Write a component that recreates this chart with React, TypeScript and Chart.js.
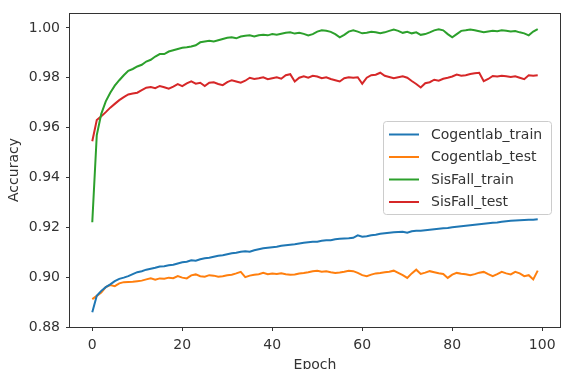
import React, { useEffect, useRef } from 'react';
import { Chart, registerables } from 'chart.js';

Chart.register(...registerables);

const epochs: number[] = Array.from({ length: 100 }, (_, i) => i);

const xTicks = [0, 20, 40, 60, 80, 100];
const yTicks = [0.88, 0.9, 0.92, 0.94, 0.96, 0.98, 1.0];

const seriesLabels = ['Cogentlab_train', 'Cogentlab_test', 'SisFall_train', 'SisFall_test'];
const seriesColors = ['#1f77b4', '#ff7f0e', '#2ca02c', '#d62728'];

const cogentlabTrain = [
  0.8859, 0.8925, 0.8945, 0.896, 0.8971, 0.8984, 0.8993, 0.8998, 0.9004, 0.9012,
  0.902, 0.9024, 0.903, 0.9034, 0.9038, 0.9043, 0.9044, 0.9048, 0.905, 0.9055,
  0.906, 0.9062, 0.9068, 0.9066, 0.9072, 0.9076, 0.9078, 0.9082, 0.9086, 0.9088,
  0.9092, 0.9096, 0.9098, 0.9102, 0.9104, 0.9102, 0.9108, 0.9112, 0.9116, 0.9118,
  0.912, 0.9122, 0.9126, 0.9128, 0.913, 0.9132, 0.9135, 0.9138, 0.914, 0.9142,
  0.9142, 0.9146, 0.9148, 0.9148, 0.9152, 0.9154, 0.9155, 0.9156, 0.9158, 0.9168,
  0.9162, 0.9164, 0.9168, 0.917, 0.9174, 0.9176, 0.9178, 0.918, 0.9181, 0.9182,
  0.9178, 0.9184, 0.9186, 0.9186, 0.9188, 0.919, 0.9192, 0.9194, 0.9196, 0.9197,
  0.92, 0.9202, 0.9204, 0.9206, 0.9208, 0.921, 0.9212, 0.9214, 0.9216, 0.9218,
  0.9219, 0.9222, 0.9224, 0.9226, 0.9227, 0.9228, 0.9229, 0.923, 0.923, 0.9232,
];

const cogentlabTest = [
  0.8912, 0.8925, 0.8938, 0.896, 0.8968, 0.8964, 0.8975, 0.898, 0.8981, 0.8982,
  0.8984, 0.8986, 0.8991, 0.8995, 0.899, 0.8995, 0.8994, 0.8998, 0.8996, 0.9004,
  0.8998, 0.8995, 0.9007, 0.9011, 0.9004, 0.9002, 0.9008, 0.9006, 0.9002, 0.9004,
  0.9008, 0.901, 0.9015, 0.9021, 0.9, 0.9006, 0.901, 0.9012, 0.9017, 0.9012,
  0.9015, 0.9013, 0.9016, 0.9012, 0.901, 0.9011, 0.9015, 0.9017, 0.902, 0.9024,
  0.9026, 0.9022, 0.9024, 0.902, 0.9017, 0.9019, 0.9022, 0.9026, 0.9024, 0.9017,
  0.9008, 0.9004, 0.901, 0.9015, 0.9017, 0.902, 0.9022, 0.9026, 0.9017, 0.9008,
  0.8997, 0.9015, 0.903, 0.9013, 0.9018, 0.9024, 0.902, 0.9016, 0.9013, 0.8997,
  0.901, 0.9017, 0.9014, 0.9012, 0.9008, 0.9012, 0.9018, 0.9021, 0.9012, 0.9004,
  0.9012, 0.9021, 0.9015, 0.9011, 0.9021, 0.9015, 0.9004, 0.9008, 0.8991, 0.9026,
];

const sisFallTrain = [
  0.922, 0.957, 0.9655, 0.9705, 0.974, 0.9768, 0.979, 0.981, 0.9828, 0.9835,
  0.9845, 0.9852, 0.9865, 0.9872, 0.9885, 0.9895, 0.9895, 0.9905, 0.991, 0.9915,
  0.992, 0.9922, 0.9925, 0.993, 0.9942, 0.9945, 0.9948, 0.9945, 0.995, 0.9955,
  0.996, 0.9962, 0.9958, 0.9965, 0.9968, 0.997, 0.9965, 0.997, 0.9972, 0.997,
  0.9975, 0.9972, 0.9976, 0.998, 0.9982, 0.9977, 0.998, 0.9976, 0.997, 0.9975,
  0.9985, 0.999, 0.9988, 0.9984, 0.9975, 0.9962, 0.9972, 0.9985, 0.999, 0.9985,
  0.9978, 0.998, 0.9984, 0.9982, 0.9978, 0.9982, 0.9988, 0.9993, 0.9988, 0.998,
  0.9984, 0.9978, 0.9982, 0.9972, 0.9975, 0.9982, 0.999, 0.9994, 0.999, 0.9975,
  0.9962, 0.9975, 0.9988, 0.999, 0.9993, 0.999, 0.9986, 0.9982, 0.9985, 0.9988,
  0.9986, 0.999, 0.9988, 0.9985, 0.9987, 0.9982, 0.9978, 0.997, 0.9985, 0.9995,
];

const sisFallTest = [
  0.9545, 0.963, 0.9645, 0.9662, 0.968, 0.9695, 0.971, 0.9722, 0.9733, 0.9737,
  0.974, 0.975, 0.976, 0.9763, 0.9758, 0.9767, 0.9762, 0.9756, 0.9764, 0.9774,
  0.9766, 0.9777, 0.9785, 0.9776, 0.978, 0.9767, 0.978, 0.9782, 0.9775, 0.977,
  0.9782, 0.979, 0.9785, 0.978, 0.9788, 0.98, 0.9795, 0.9798, 0.9802, 0.9794,
  0.9798, 0.9802, 0.9796, 0.981, 0.9814, 0.9785, 0.98, 0.9806, 0.98, 0.9808,
  0.9805, 0.9798, 0.9802, 0.9795, 0.979, 0.9785, 0.9798, 0.9802, 0.98, 0.9802,
  0.9776, 0.98, 0.981, 0.9812, 0.982, 0.9808, 0.9803, 0.9798, 0.9802, 0.9806,
  0.98, 0.9787, 0.9775, 0.9761, 0.9778, 0.9782, 0.9792, 0.9788, 0.9796, 0.98,
  0.9805, 0.9813, 0.9808, 0.981, 0.9815, 0.9818, 0.982, 0.9786, 0.9795, 0.9807,
  0.9805, 0.9808, 0.9806, 0.9803, 0.9806, 0.98, 0.9794, 0.981, 0.9808, 0.981,
];

const FONT = 'DejaVu Sans';
const TEXT = '#333333';

const decorPlugin = {
  id: 'decor',
  afterDatasetsDraw(chart: any) {
    const { ctx, chartArea: a } = chart;
    ctx.save();
    // frame (all four spines)
    ctx.strokeStyle = '#333333';
    ctx.lineWidth = 1;
    ctx.strokeRect(Math.round(a.left) - 0.5, Math.round(a.top) - 0.5,
      Math.round(a.right - a.left) + 1, Math.round(a.bottom - a.top) + 1);

    // legend
    const bx = 383.5, by = 121.5, bw = 168, bh = 93;
    ctx.beginPath();
    (ctx as any).roundRect(bx, by, bw, bh, 3);
    ctx.fillStyle = 'rgba(255,255,255,0.8)';
    ctx.fill();
    ctx.strokeStyle = '#cccccc';
    ctx.stroke();
    ctx.font = `14px "${FONT}"`;
    ctx.textBaseline = 'middle';
    ctx.textAlign = 'left';
    chart.data.datasets.forEach((ds: any, i: number) => {
      const y = 134.5 + i * 22.5;
      ctx.strokeStyle = ds.borderColor;
      ctx.lineWidth = 2;
      ctx.beginPath();
      ctx.moveTo(389, y);
      ctx.lineTo(419, y);
      ctx.stroke();
      ctx.fillStyle = TEXT;
      ctx.fillText(ds.label, 431, y + 0.5);
    });

    // axis titles
    ctx.fillStyle = TEXT;
    ctx.font = `14px "${FONT}"`;
    ctx.textAlign = 'center';
    ctx.textBaseline = 'alphabetic';
    ctx.fillText('Epoch', (a.left + a.right) / 2, 368.5);
    ctx.translate(17.5, 170);
    ctx.rotate(-Math.PI / 2);
    ctx.fillText('Accuracy', 0, 0);
    ctx.restore();
  },
};

export default function App() {
  const ref = useRef<HTMLCanvasElement | null>(null);

  useEffect(() => {
    if (!ref.current) return;
    const data = [cogentlabTrain, cogentlabTest, sisFallTrain, sisFallTest];
    const chart = new Chart(ref.current, {
      type: 'line',
      data: {
        labels: epochs,
        datasets: data.map((d, i) => ({
          label: seriesLabels[i],
          data: d,
          borderColor: seriesColors[i],
          backgroundColor: seriesColors[i],
          borderWidth: 2,
          pointRadius: 0,
          tension: 0,
          fill: false,
        })),
      },
      options: {
        animation: false,
        responsive: false,
        maintainAspectRatio: false,
        layout: { padding: { top: 9, right: 9, left: 0, bottom: 0 } },
        plugins: { legend: { display: false }, tooltip: { enabled: false } },
        scales: {
          x: {
            type: 'linear',
            min: -4.95,
            max: 103.95,
            afterBuildTicks: (s: any) => { s.ticks = xTicks.map((v) => ({ value: v })); },
            afterFit: (s: any) => { s.height = 42; },
            border: { display: false },
            grid: { display: true, drawOnChartArea: false, drawTicks: true, tickLength: 4, color: '#333333' },
            ticks: {
              padding: 6,
              color: TEXT,
              font: { family: FONT, size: 14 },
              maxRotation: 0,
              autoSkip: false,
              callback: (v: any) => String(v),
            },
          },
          y: {
            type: 'linear',
            min: 0.88,
            max: 1.0054,
            afterBuildTicks: (s: any) => { s.ticks = yTicks.map((v) => ({ value: v })); },
            afterFit: (s: any) => { s.width = 70; },
            border: { display: false },
            grid: { display: true, drawOnChartArea: false, drawTicks: true, tickLength: 4, color: '#333333' },
            ticks: {
              padding: 6,
              color: TEXT,
              font: { family: FONT, size: 14 },
              autoSkip: false,
              callback: (v: any) => Number(v).toFixed(2),
            },
          },
        },
      },
      plugins: [decorPlugin],
    });
    return () => chart.destroy();
  }, []);

  return (
    <div style={{ position: 'fixed', left: 0, top: 0, width: 569, height: 369, background: '#fff' }}>
      <canvas ref={ref} width={569} height={369} style={{ width: 569, height: 369 }} />
    </div>
  );
}
